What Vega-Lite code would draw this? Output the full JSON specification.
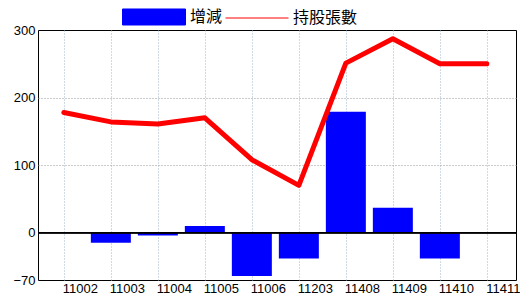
{
  "$schema": "https://vega.github.io/schema/vega-lite/v6.json",
  "width": 478,
  "height": 250,
  "autosize": {"type": "none"},
  "padding": {"left": 38, "top": 30, "right": 4, "bottom": 20},
  "background": "white",
  "config": {
    "view": {"stroke": "black", "strokeWidth": 1},
    "font": "'Liberation Sans Narrow', 'Liberation Sans', sans-serif"
  },
  "data": {
    "values": [
      {"period": "11002", "change": null, "shares": 178},
      {"period": "11003", "change": -15, "shares": 164},
      {"period": "11004", "change": -4, "shares": 161},
      {"period": "11005", "change": 10, "shares": 170},
      {"period": "11006", "change": -64, "shares": 108},
      {"period": "11203", "change": -38, "shares": 70},
      {"period": "11408", "change": 179, "shares": 251},
      {"period": "11409", "change": 37, "shares": 287},
      {"period": "11410", "change": -38, "shares": 250},
      {"period": "11411", "change": null, "shares": 250}
    ]
  },
  "encoding": {
    "x": {
      "field": "period",
      "type": "ordinal",
      "sort": null,
      "scale": {
        "type": "point",
        "domain": ["11002", "11003", "11004", "11005", "11006", "11203", "11408", "11409", "11410", "11411"],
        "padding": 0.585,
        "align": 0.47
      },
      "axis": {
        "title": null,
        "domain": false,
        "ticks": false,
        "labelAngle": 0,
        "labelOffset": 16,
        "labelPadding": 2,
        "labelFontSize": 13,
        "labelColor": "black",
        "labelFont": "'Liberation Sans Narrow', 'Liberation Sans', sans-serif",
        "grid": true,
        "gridColor": "#9fb6c8",
        "gridDash": [1, 2],
        "gridWidth": 1
      }
    }
  },
  "layer": [
    {
      "mark": {"type": "bar", "width": 40},
      "encoding": {
        "y": {
          "field": "change",
          "type": "quantitative",
          "scale": {"domain": [-70, 300], "nice": false, "zero": false},
          "axis": {
            "title": null,
            "values": [-70, 0, 100, 200, 300],
            "domain": false,
            "ticks": false,
            "labelPadding": 3,
            "labelFontSize": 13,
            "labelColor": "black",
            "labelFont": "'Liberation Sans Narrow', 'Liberation Sans', sans-serif",
            "grid": true,
            "gridColor": "#999999",
            "gridDash": [1, 2],
            "gridOpacity": {"condition": {"test": "datum.value === 300 || datum.value === -70 || datum.value === 0", "value": 0}, "value": 1}
          }
        },
        "color": {
          "datum": "增減",
          "scale": {"domain": ["增減", "持股張數"], "range": ["#0000ff", "#ff0000"]},
          "legend": {
            "orient": "none",
            "legendX": 84,
            "legendY": -45.5,
            "direction": "horizontal",
            "title": null,
            "padding": 0,
            "symbolSize": 3969,
            "symbolType": "M-1,-0.254H1V0.254H-1Z",
            "labelFont": "Noto Sans CJK TC",
            "labelFontSize": 16,
            "labelColor": "black",
            "labelOffset": 4,
            "columnPadding": 0,
            "encode": {
              "symbols": {
                "update": {
                  "shape": {"signal": "datum.value === '增減' ? 'M-1,-0.254H1V0.254H-1Z' : 'M-1,0H1'"},
                  "fill": {"signal": "datum.value === '增減' ? '#0000ff' : 'transparent'"},
                  "stroke": {"signal": "datum.value === '增減' ? 'transparent' : '#ff0000'"},
                  "strokeWidth": {"value": 1},
                  "opacity": {"value": 1},
                  "fillOpacity": {"value": 1}
                }
              }
            }
          }
        }
      }
    },
    {
      "mark": {"type": "rule", "color": "black", "strokeWidth": 1},
      "encoding": {"y": {"datum": 0}, "x": null}
    },
    {
      "mark": {"type": "line", "strokeWidth": 5, "strokeCap": "round", "strokeJoin": "round"},
      "encoding": {
        "y": {"field": "shares", "type": "quantitative"},
        "color": {"datum": "持股張數"}
      }
    }
  ]
}
